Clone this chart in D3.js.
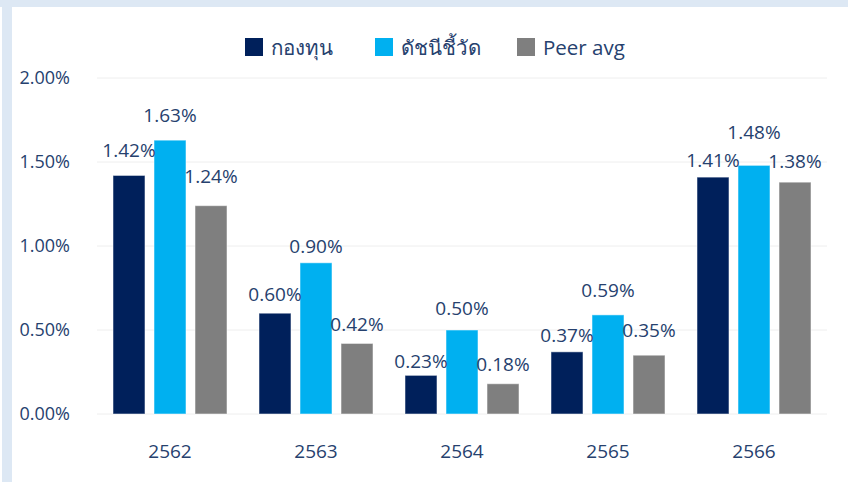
<!DOCTYPE html>
<html>
<head>
<meta charset="utf-8">
<script src="https://cdn.jsdelivr.net/npm/d3@7"></script>
<style>
  body { margin: 0; background: #fff; }
  text { font-family: "Open Sans", "Noto Sans", sans-serif; fill: #26416e; }
</style>
</head>
<body>
<div id="chart"></div>
<script>
// data
const years = ["2562", "2563", "2564", "2565", "2566"];
const seriesNames = ["กองทุน", "ดัชนีชี้วัด", "Peer avg"];
const fund = [1.42, 0.60, 0.23, 0.37, 1.41];
const benchmark = [1.63, 0.90, 0.50, 0.59, 1.48];
const peer = [1.24, 0.42, 0.18, 0.35, 1.38];
const yTicks = [0, 0.5, 1.0, 1.5, 2.0];

const colors = ["#00205b", "#00b0f0", "#7f7f7f"];
const values = [fund, benchmark, peer];

// gap (px) between bar top and its label baseline, as placed in the original
const labelGap = [
    [18, 12, 7, 10, 10],
    [18, 10, 15, 18, 26],
    [23, 12, 13, 18, 14]
];

const width = 848, height = 482;
const margin = { top: 78, right: 21, bottom: 68, left: 97 };

const svg = d3.select("#chart").append("svg")
    .attr("width", width)
    .attr("height", height);

// light blue frame on top and left
svg.append("rect").attr("x", 0).attr("y", 0).attr("width", width).attr("height", 7).attr("fill", "#dde8f4");
svg.append("rect").attr("x", 2).attr("y", 0).attr("width", 10).attr("height", height).attr("fill", "#dde8f4");

const x = d3.scaleBand()
    .domain(years)
    .range([margin.left, width - margin.right]);

const x1 = d3.scaleBand()
    .domain(d3.range(3))
    .range([16, x.bandwidth() - 16])
    .paddingInner(0.22);

const y = d3.scaleLinear()
    .domain([0, 2])
    .range([height - margin.bottom, margin.top]);

// gridlines
svg.append("g")
    .selectAll("line")
    .data(yTicks)
    .join("line")
    .attr("x1", margin.left)
    .attr("x2", width - margin.right)
    .attr("y1", d => y(d))
    .attr("y2", d => y(d))
    .attr("stroke", "#eeeeee")
    .attr("stroke-width", 1);

// y tick labels
svg.append("g")
    .selectAll("text")
    .data(yTicks)
    .join("text")
    .attr("x", 70)
    .attr("y", d => y(d))
    .attr("dy", "0.35em")
    .attr("text-anchor", "end")
    .style("font-size", "18px")
    .text(d => d.toFixed(2) + "%");

// bars
const groups = svg.append("g")
    .selectAll("g")
    .data(years)
    .join("g")
    .attr("transform", d => `translate(${x(d)},0)`);

groups.selectAll("rect")
    .data((d, i) => values.map((s, j) => ({ i, j, v: s[i] })))
    .join("rect")
    .attr("x", d => x1(d.j))
    .attr("width", x1.bandwidth())
    .attr("y", d => y(d.v))
    .attr("height", d => y(0) - y(d.v))
    .attr("fill", d => colors[d.j])
    .attr("stroke", "rgba(255,255,255,0.5)")
    .attr("stroke-width", 1);

groups.selectAll("text")
    .data((d, i) => values.map((s, j) => ({ i, j, v: s[i] })))
    .join("text")
    .attr("x", d => x1(d.j) + x1.bandwidth() / 2)
    .attr("y", d => y(d.v) - labelGap[d.j][d.i])
    .attr("text-anchor", "middle")
    .style("font-size", "19px")
    .text(d => d.v.toFixed(2) + "%");

// x labels
svg.append("g")
    .selectAll("text")
    .data(years)
    .join("text")
    .attr("x", d => x(d) + x.bandwidth() / 2)
    .attr("y", 458)
    .attr("text-anchor", "middle")
    .style("font-size", "19px")
    .text(d => d);

// legend
const legendX = [245, 375, 517];
const legend = svg.append("g")
    .selectAll("g")
    .data(seriesNames)
    .join("g")
    .attr("transform", (d, i) => `translate(${legendX[i]},38)`);

legend.append("rect")
    .attr("width", 18)
    .attr("height", 18)
    .attr("fill", (d, i) => colors[i]);

legend.append("text")
    .attr("x", 26)
    .attr("y", 17)
    .style("font-size", "20.5px")
    .text(d => d);
</script>
</body>
</html>
